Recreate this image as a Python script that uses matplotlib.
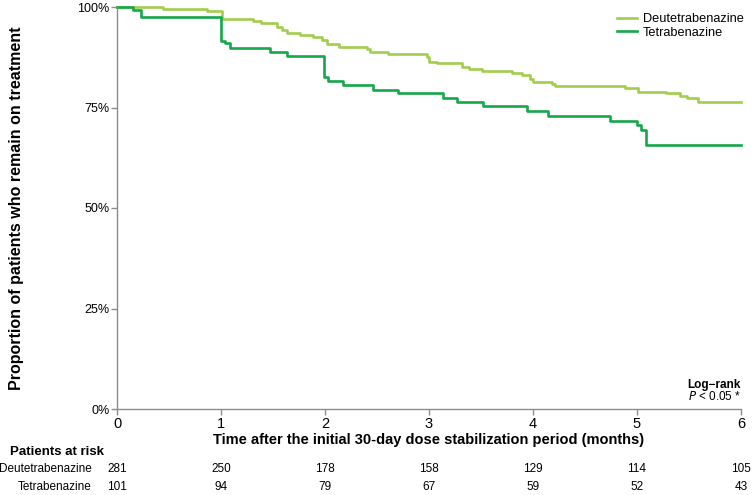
import matplotlib.pyplot as plt
import numpy as np

plt.rcParams['font.family'] = ['Liberation Sans', 'DejaVu Sans']

# Kaplan-Meier steps (months, proportion)
dtbz_t = [0, 0.44, 0.87, 1.01, 1.31, 1.38, 1.54, 1.59, 1.63, 1.76, 1.88, 1.97, 2.02,
          2.13, 2.40, 2.43, 2.61, 2.98, 3.00, 3.08, 3.32, 3.38, 3.51, 3.80, 3.89,
          3.97, 4.00, 4.18, 4.21, 4.88, 5.01, 5.28, 5.41, 5.48, 5.59, 6.0]
dtbz_p = [1.0, 0.995, 0.990, 0.970, 0.966, 0.959, 0.951, 0.943, 0.936, 0.930, 0.926, 0.918, 0.907,
          0.901, 0.896, 0.889, 0.883, 0.876, 0.864, 0.860, 0.851, 0.846, 0.842, 0.837, 0.831,
          0.820, 0.814, 0.808, 0.804, 0.798, 0.789, 0.785, 0.779, 0.773, 0.764, 0.764]

tbz_t = [0, 0.15, 0.23, 1.00, 1.04, 1.09, 1.47, 1.63, 1.99, 2.03, 2.17, 2.46, 2.70,
         3.13, 3.27, 3.52, 3.94, 4.14, 4.74, 5.00, 5.04, 5.09, 6.0]
tbz_p = [1.0, 0.993, 0.974, 0.916, 0.910, 0.897, 0.887, 0.878, 0.827, 0.816, 0.806, 0.794, 0.785,
         0.774, 0.764, 0.754, 0.741, 0.730, 0.716, 0.706, 0.694, 0.657, 0.657]

months = [0, 1, 2, 3, 4, 5, 6]
risk_dtbz = [281, 250, 178, 158, 129, 114, 105]
risk_tbz = [101, 94, 79, 67, 59, 52, 43]

c_dtbz = '#a2cd4d'
c_tbz = '#14a84b'
grey = '#8c8c8c'

fig = plt.figure(figsize=(7.55, 4.95), dpi=100)
ax = fig.add_axes([117/755, 1 - 409/495, 624/755, 402/495])

ax.step(dtbz_t, dtbz_p, where='post', color=c_dtbz, lw=1.9, label='Deutetrabenazine', clip_on=False)
ax.step(tbz_t, tbz_p, where='post', color=c_tbz, lw=1.9, label='Tetrabenazine', clip_on=False)

ax.set_xlim(0, 6)
ax.set_ylim(0, 1)
ax.set_xticks(months)
ax.set_yticks([0, 0.25, 0.5, 0.75, 1.0])
ax.set_yticklabels(['0%', '25%', '50%', '75%', '100%'])
for s in ['top', 'right']:
    ax.spines[s].set_visible(False)
for s in ['left', 'bottom']:
    ax.spines[s].set_color(grey)
    ax.spines[s].set_linewidth(1.0)
ax.tick_params(axis='both', colors=grey, length=4.5, width=1.0, labelcolor='black')
ax.tick_params(axis='x', labelsize=10.5, pad=1.5)
ax.tick_params(axis='y', labelsize=9, pad=1)

ax.set_ylabel('Proportion of patients who remain on treatment', fontsize=11.5, fontweight='bold', labelpad=38)
ax.set_xlabel('Time after the initial 30-day dose stabilization period (months)', fontsize=10.5,
              fontweight='bold', labelpad=1)

ax.legend(loc='upper left', frameon=False, fontsize=9.2, handlelength=1.6, handletextpad=0.45,
          labelspacing=0.12, borderpad=0, borderaxespad=0, bbox_to_anchor=(0.801, 0.985))

ax.text(6, 0.06, 'Log\u2212rank', fontsize=8.5, fontweight='bold', ha='right', va='center')
ax.text(6, 0.03, r'$\it{P}$ < 0.05 *', fontsize=8.5, ha='right', va='center')

# Patients at risk table
fig.text(10/755, 1 - 452/495, 'Patients at risk', fontsize=9.5, fontweight='bold', ha='left', va='center')
fig.text(92/755, 1 - 469/495, 'Deutetrabenazine', fontsize=8.5, ha='right', va='center')
fig.text(92/755, 1 - 487/495, 'Tetrabenazine', fontsize=8.5, ha='right', va='center')
for m, a, b in zip(months, risk_dtbz, risk_tbz):
    ax.text(m, -(469 - 409) / 402, str(a), fontsize=8.5, ha='center', va='center',
            transform=ax.get_xaxis_transform(), clip_on=False)
    ax.text(m, -(487 - 409) / 402, str(b), fontsize=8.5, ha='center', va='center',
            transform=ax.get_xaxis_transform(), clip_on=False)

fig.savefig('out.png', dpi=100)
